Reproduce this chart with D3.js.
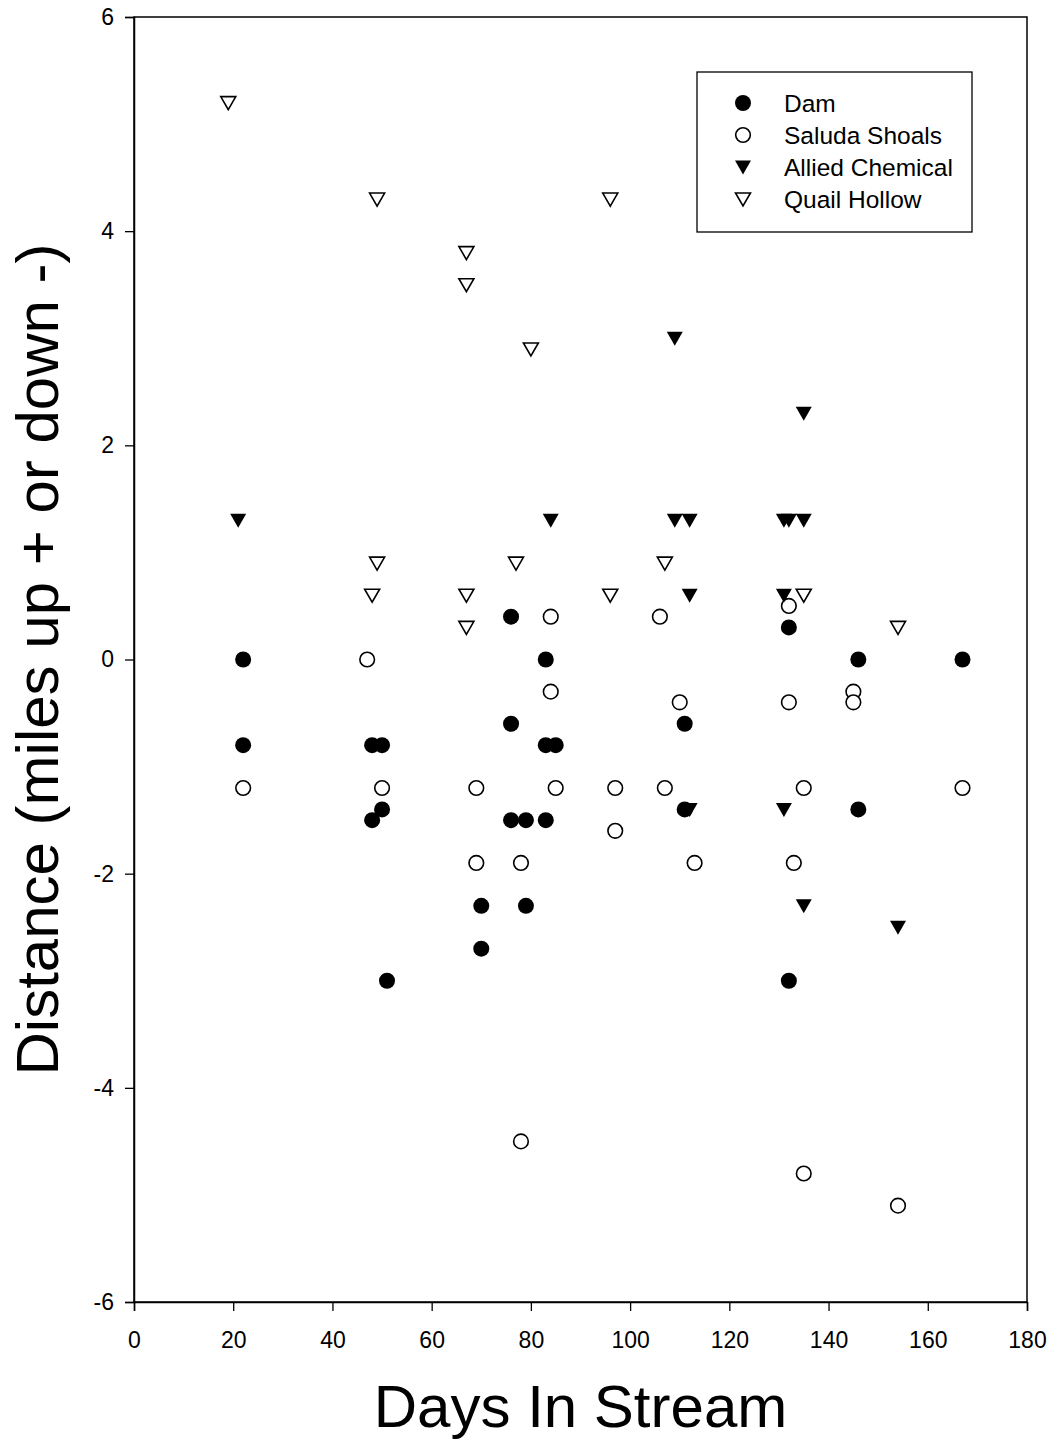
<!DOCTYPE html>
<html><head><meta charset="utf-8">
<script src="https://cdn.jsdelivr.net/npm/d3@7"></script>
<style>body{margin:0;background:#fff}svg{display:block;font-family:"Liberation Sans",Arial,sans-serif}</style>
</head><body><svg id="c" width="1053" height="1439"></svg>
<script>
const xTicks = [0,20,40,60,80,100,120,140,160,180];
const yTicks = [-6,-4,-2,0,2,4,6];
const seriesNames = ["Dam","Saluda Shoals","Allied Chemical","Quail Hollow"];
const damX = [22,22,48,50,48,50,51,76,83,76,83,85,76,79,83,70,79,70,111,111,132,132,146,146,167];
const damY = [0,-0.8,-0.8,-0.8,-1.5,-1.4,-3.0,0.4,0,-0.6,-0.8,-0.8,-1.5,-1.5,-1.5,-2.3,-2.3,-2.7,-0.6,-1.4,0.3,-3.0,0,-1.4,0];
const saludaX = [22,47,50,69,69,78,78,84,84,85,97,97,106,107,110,113,132,132,133,135,135,145,145,154,167];
const saludaY = [-1.2,0,-1.2,-1.2,-1.9,-1.9,-4.5,0.4,-0.3,-1.2,-1.2,-1.6,0.4,-1.2,-0.4,-1.9,0.5,-0.4,-1.9,-1.2,-4.8,-0.3,-0.4,-5.1,-1.2];
const alliedX = [21,84,109,109,112,131,132,135,135,112,131,112,131,135,154];
const alliedY = [1.3,1.3,3.0,1.3,1.3,1.3,1.3,1.3,2.3,0.6,0.6,-1.4,-1.4,-2.3,-2.5];
const quailX = [19,49,67,67,80,96,49,48,67,67,77,96,107,135,154];
const quailY = [5.2,4.3,3.8,3.5,2.9,4.3,0.9,0.6,0.6,0.3,0.9,0.6,0.9,0.6,0.3];

const svg = d3.select("#c");
const L=134,R=1027,T=17,B=1302;
const x = d3.scaleLinear().domain([0,180]).range([L,R]);
const y = d3.scaleLinear().domain([-6,6]).range([B,T]);

svg.append("rect").attr("x",L).attr("y",T).attr("width",R-L).attr("height",B-T)
  .attr("fill","none").attr("stroke","#000").attr("stroke-width",1.5);

const xa = svg.append("g").attr("transform",`translate(0,${B})`)
  .call(d3.axisBottom(x).tickValues(xTicks).tickSize(9).tickPadding(21).tickFormat(d3.format("d")));
const ya = svg.append("g").attr("transform",`translate(${L},0)`)
  .call(d3.axisLeft(y).tickValues(yTicks).tickSize(9).tickPadding(11).tickFormat(d=>d<0?"-"+Math.abs(d):d));
[xa,ya].forEach(a=>{
  a.attr("font-size",23).attr("font-family","Liberation Sans, Arial, sans-serif");
  a.select(".domain").attr("stroke-width",1.5);
  a.selectAll("line").attr("stroke-width",1.3);
  a.selectAll("text").attr("fill","#000");
});

const circ = d3.symbol().type(d3.symbolCircle).size(Math.PI*8*8)();
const tri = "M-8,-6.5L8,-6.5L0,7.5Z";
const triO = "M-7.5,-6L7.5,-6L0,7Z";
const styles = [
  {path:circ, fill:"#000", stroke:"none"},
  {path:d3.symbol().type(d3.symbolCircle).size(Math.PI*7.3*7.3)(), fill:"#fff", stroke:"#000"},
  {path:tri, fill:"#000", stroke:"none"},
  {path:triO, fill:"#fff", stroke:"#000"}
];
const data = [[damX,damY],[saludaX,saludaY],[alliedX,alliedY],[quailX,quailY]];
const g = svg.append("g");
data.forEach(([xs,ys],i)=>{
  const st = styles[i];
  g.selectAll(null).data(xs.map((v,k)=>[v,ys[k]])).enter().append("path")
    .attr("d",st.path).attr("transform",d=>`translate(${x(d[0])},${y(d[1])})`)
    .attr("fill",st.fill).attr("stroke",st.stroke).attr("stroke-width",1.6);
});

const lg = svg.append("g");
lg.append("rect").attr("x",697).attr("y",72).attr("width",275).attr("height",160)
  .attr("fill","#fff").attr("stroke","#000").attr("stroke-width",1.3);
seriesNames.forEach((n,i)=>{
  const yy = 103+i*32;
  lg.append("path").attr("d",styles[i].path).attr("transform",`translate(743,${yy})`)
    .attr("fill",styles[i].fill).attr("stroke",styles[i].stroke).attr("stroke-width",1.6);
  lg.append("text").attr("x",784).attr("y",yy).attr("dy","0.36em").attr("font-size",24.5).text(n);
});

svg.append("text").attr("x",(L+R)/2).attr("y",1427).attr("text-anchor","middle")
  .attr("font-size",60).text("Days In Stream");
svg.append("text").attr("transform",`translate(58,${(T+B)/2}) rotate(-90)`).attr("text-anchor","middle")
  .attr("font-size",60).text("Distance (miles up + or down -)");
</script></body></html>
